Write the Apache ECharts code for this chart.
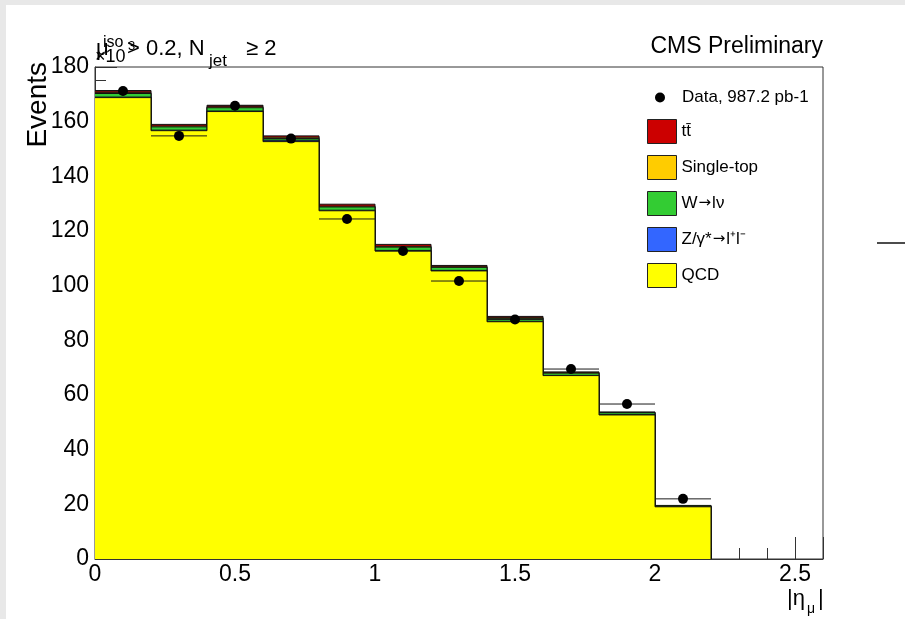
<!DOCTYPE html>
<html>
<head>
<meta charset="utf-8">
<script src="https://cdn.jsdelivr.net/npm/echarts@6/dist/echarts.min.js"></script>
<style>
  html, body { margin: 0; padding: 0; width: 905px; height: 619px; overflow: hidden; background: #e8e8e8; }
  #chart { position: absolute; left: 6px; top: 5px; width: 899px; height: 614px; background: #ffffff; }
</style>
</head>
<body>
<div id="chart"></div>
<script>
// |eta_mu| bin edges (11 bins of width 0.2)
const binEdges = [0.0, 0.2, 0.4, 0.6, 0.8, 1.0, 1.2, 1.4, 1.6, 1.8, 2.0, 2.2];

// Expected yields per bin, in units of 10^3 events
const qcd       = [168.8, 156.7, 163.7, 152.7, 127.4, 112.7, 105.4, 86.8, 67.1, 52.7, 19.1];
const zjets     = [0.2, 0.2, 0.2, 0.5, 0.2, 0.2, 0.2, 0.15, 0.1, 0.1, 0.05];
const wjets     = [1.3, 1.2, 1.2, 0.6, 1.2, 1.2, 1.1, 1.1, 0.8, 0.7, 0.3];
const singleTop = [0.3, 0.3, 0.3, 0.5, 0.3, 0.3, 0.2, 0.2, 0.15, 0.1, 0.05];
const ttbar     = [0.8, 0.6, 0.6, 0.5, 0.7, 0.7, 0.5, 0.5, 0.3, 0.2, 0.1];

// Observed data (10^3 events) and its uncertainty
const dataCounts = [171.2, 154.8, 165.8, 153.8, 124.4, 112.7, 101.7, 87.6, 69.5, 56.7, 22.0];
const dataErr    = [1.6, 1.5, 1.6, 1.5, 1.4, 1.3, 1.3, 1.2, 1.1, 1.0, 0.7];

const FONT = '"Liberation Sans", Arial, Helvetica, sans-serif';
const ARROW_FONT = '"DejaVu Sans", sans-serif';

// Cumulative stack levels, bottom to top
function addArr(a, b) { return a.map((v, i) => v + b[i]); }
const lvQCD = qcd;
const lvZ   = addArr(lvQCD, zjets);
const lvW   = addArr(lvZ, wjets);
const lvST  = addArr(lvW, singleTop);
const lvTT  = addArr(lvST, ttbar);

// Step outline of a histogram: one point per lower edge, then close at the last edge
function histPoints(level) {
  const pts = level.map((v, i) => [binEdges[i], v]);
  const last = binEdges[binEdges.length - 1];
  pts.push([last, level[level.length - 1]]);
  pts.push([last, 0]);
  return pts;
}

function histSeries(name, level, color, z) {
  return {
    name: name,
    type: 'line',
    step: 'end',
    data: histPoints(level),
    symbol: 'none',
    silent: true,
    z: z,
    itemStyle: { color: color },
    lineStyle: { color: '#111', width: 1 },
    areaStyle: { color: color, opacity: 1 }
  };
}

const NAME_TT = 't\u0074\u0304';
const NAME_ST = 'Single-top';
const NAME_W  = 'W\u2192l\u03bd';
const NAME_Z  = 'Z/\u03b3*\u2192l\u207al\u207b';
const NAME_QCD = 'QCD';
const NAME_DATA = 'Data, 987.2 pb-1';

const COLORS = { tt: '#cc0000', st: '#ffcc00', w: '#33cc33', z: '#3366ff', qcd: '#ffff00' };

// legend labels: arrows drawn in a font with a full-width arrow glyph
function legendLabel(name) {
  if (name.indexOf('\u2192') < 0) return name;
  const parts = name.split('\u2192');
  return '{t|' + parts[0] + '}{arr|\u2192}{t|' + parts[1] + '}';
}

const chart = echarts.init(document.getElementById('chart'), null, { renderer: 'canvas' });

const axisColor = '#333';

const option = {
  animation: false,
  backgroundColor: '#ffffff',
  grid: {
    left: 89, top: 62, right: 82, bottom: 60,
    show: true, borderColor: axisColor, borderWidth: 1, backgroundColor: 'transparent'
  },
  xAxis: {
    type: 'value', min: 0, max: 2.6, interval: 0.5,
    axisLine: { show: true, onZero: false, lineStyle: { color: axisColor, width: 1 } },
    axisTick: { show: true, inside: true, length: 22, lineStyle: { color: axisColor } },
    minorTick: { show: true, splitNumber: 5, length: 11, lineStyle: { color: axisColor } },
    axisLabel: { fontSize: 23, color: '#000', fontFamily: FONT, margin: 4, showMaxLabel: false },
    splitLine: { show: false }
  },
  yAxis: {
    type: 'value', min: 0, max: 180, interval: 20,
    axisLine: { show: true, lineStyle: { color: axisColor, width: 1 } },
    axisTick: { show: true, inside: true, length: 22, lineStyle: { color: axisColor } },
    minorTick: { show: true, splitNumber: 4, length: 11, lineStyle: { color: axisColor } },
    axisLabel: { fontSize: 23, color: '#000', fontFamily: FONT, margin: 6 },
    splitLine: { show: false }
  },
  legend: [
    {
      orient: 'vertical', left: 649, top: 84, padding: 0,
      itemWidth: 10, itemHeight: 10, itemGap: 11,
      textStyle: { fontSize: 17, color: '#000', fontFamily: FONT, padding: [0, 0, 0, 12] },
      selectedMode: false,
      data: [{ name: NAME_DATA, icon: 'circle', itemStyle: { color: '#000', opacity: 1 } }]
    },
    {
      orient: 'vertical', left: 641, top: 114, padding: 0,
      itemWidth: 29, itemHeight: 24, itemGap: 11,
      formatter: legendLabel,
      textStyle: {
        fontSize: 17, color: '#000', fontFamily: FONT,
        rich: {
          t: { fontSize: 17, color: '#000', fontFamily: FONT },
          arr: { fontSize: 15, color: '#000', fontFamily: ARROW_FONT, padding: [0, 1, 0, 1] }
        }
      },
      selectedMode: false,
      data: [
        { name: NAME_TT,  icon: 'rect', itemStyle: { color: COLORS.tt,  borderColor: '#222', borderWidth: 1 } },
        { name: NAME_ST,  icon: 'rect', itemStyle: { color: COLORS.st,  borderColor: '#222', borderWidth: 1 } },
        { name: NAME_W,   icon: 'rect', itemStyle: { color: COLORS.w,   borderColor: '#222', borderWidth: 1 } },
        { name: NAME_Z,   icon: 'rect', itemStyle: { color: COLORS.z,   borderColor: '#222', borderWidth: 1 } },
        { name: NAME_QCD, icon: 'rect', itemStyle: { color: COLORS.qcd, borderColor: '#222', borderWidth: 1 } }
      ]
    }
  ],
  series: [
    histSeries(NAME_TT,  lvTT,  COLORS.tt,  2),
    histSeries(NAME_ST,  lvST,  COLORS.st,  3),
    histSeries(NAME_W,   lvW,   COLORS.w,   4),
    histSeries(NAME_Z,   lvZ,   COLORS.z,   5),
    histSeries(NAME_QCD, lvQCD, COLORS.qcd, 6),
    {
      // data error bars: horizontal bar spans the bin, vertical bar the uncertainty
      name: 'dataErrors',
      type: 'custom',
      silent: true,
      z: 8,
      data: dataCounts.map((v, i) => [binEdges[i], binEdges[i + 1], v, dataErr[i]]),
      renderItem: function (params, api) {
        const lo = api.value(0), hi = api.value(1), v = api.value(2), e = api.value(3);
        const mid = (lo + hi) / 2;
        const pL = api.coord([lo, v]);
        const pR = api.coord([hi, v]);
        const pT = api.coord([mid, v + e]);
        const pB = api.coord([mid, v - e]);
        const st = { stroke: '#1a1a1a', lineWidth: 1 };
        return {
          type: 'group',
          children: [
            { type: 'line', shape: { x1: pL[0], y1: pL[1], x2: pR[0], y2: pR[1] }, style: st },
            { type: 'line', shape: { x1: pT[0], y1: pT[1], x2: pB[0], y2: pB[1] }, style: st }
          ]
        };
      }
    },
    {
      name: NAME_DATA,
      type: 'scatter',
      silent: true,
      z: 9,
      symbol: 'circle',
      symbolSize: 10,
      itemStyle: { color: '#000', opacity: 1 },
      data: dataCounts.map((v, i) => [(binEdges[i] + binEdges[i + 1]) / 2, v])
    }
  ],
  graphic: [
    // exponent of the y axis
    { type: 'text', left: 89, top: 43, z: 50, style: { text: '\u00d710', font: '18px ' + FONT, fill: '#000' } },
    { type: 'text', left: 122, top: 35, z: 50, style: { text: '3', font: '13px ' + FONT, fill: '#000' } },
    // selection label
    { type: 'text', x: 90, y: 44, z: 51, style: { text: '\u03bc', font: '22px ' + FONT, fill: '#000', verticalAlign: 'middle' } },
    { type: 'text', x: 97, y: 38, z: 51, style: { text: 'iso', font: '16px ' + FONT, fill: '#000', verticalAlign: 'middle' } },
    { type: 'text', x: 121, y: 44, z: 51, style: { text: '> 0.2, N', font: '22px ' + FONT, fill: '#000', verticalAlign: 'middle' } },
    { type: 'text', x: 203, y: 56, z: 51, style: { text: 'jet', font: '17px ' + FONT, fill: '#000', verticalAlign: 'middle' } },
    { type: 'text', x: 240, y: 44, z: 51, style: { text: '\u2265 2', font: '22px ' + FONT, fill: '#000', verticalAlign: 'middle' } },
    // experiment label
    { type: 'text', x: 817, y: 42, z: 51, style: { text: 'CMS Preliminary', font: '23px ' + FONT, fill: '#000', align: 'right', verticalAlign: 'middle' } },
    // y axis title
    { type: 'text', x: 46, y: 57, rotation: Math.PI / 2, z: 51,
      style: { text: 'Events', font: '28px ' + FONT, fill: '#000', align: 'right', verticalAlign: 'bottom' } },
    // x axis title |eta_mu|
    { type: 'text', x: 781, y: 594, z: 51, style: { text: '|\u03b7', font: '22px ' + FONT, fill: '#000', verticalAlign: 'middle' } },
    { type: 'text', x: 801, y: 604, z: 51, style: { text: '\u03bc', font: '14px ' + FONT, fill: '#000', verticalAlign: 'middle' } },
    { type: 'text', x: 812, y: 594, z: 51, style: { text: '|', font: '22px ' + FONT, fill: '#000', verticalAlign: 'middle' } },
    // short rule at the right margin
    { type: 'line', z: 51, shape: { x1: 871, y1: 238, x2: 899, y2: 238 }, style: { stroke: '#111', lineWidth: 1.5 } }
  ]
};

chart.setOption(option);
</script>
</body>
</html>
